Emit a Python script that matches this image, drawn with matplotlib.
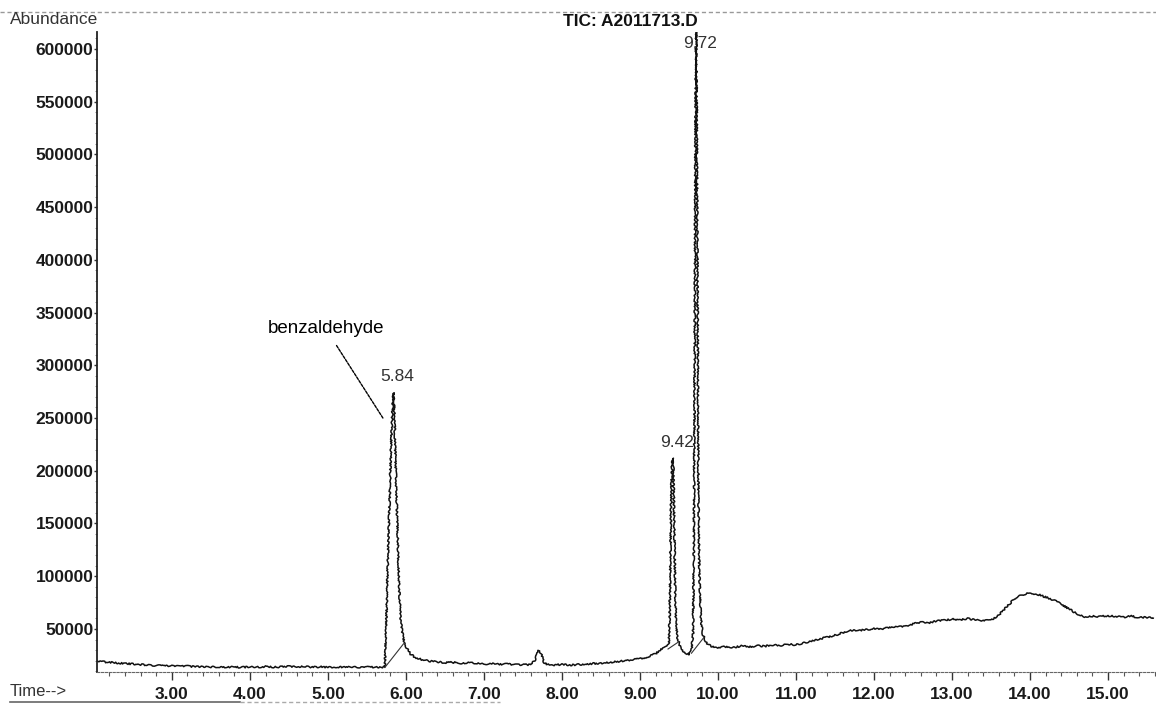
import matplotlib
matplotlib.use('Agg')
import matplotlib.pyplot as plt
from matplotlib.ticker import MultipleLocator, FixedLocator
from matplotlib.lines import Line2D

plt.rcParams['font.family'] = ['Liberation Sans', 'DejaVu Sans']

# ---------------- data ----------------
time_min = [
    2.04, 2.10, 2.20, 2.30, 2.40, 2.50, 2.60, 2.70, 2.80, 2.90,
    3.00, 3.10, 3.20, 3.30, 3.40, 3.50, 3.60, 3.70, 3.80, 3.90,
    4.00, 4.10, 4.20, 4.30, 4.40, 4.50, 4.60, 4.70, 4.80, 4.90,
    5.00, 5.10, 5.20, 5.30, 5.40, 5.50, 5.60, 5.70, 5.73, 5.75,
    5.77, 5.79, 5.81, 5.83, 5.84, 5.85, 5.87, 5.89, 5.91, 5.93,
    5.95, 5.98, 6.01, 6.06, 6.12, 6.20, 6.30, 6.40, 6.50, 6.60,
    6.70, 6.80, 6.90, 7.00, 7.10, 7.20, 7.30, 7.40, 7.50, 7.60,
    7.65, 7.70, 7.73, 7.77, 7.80, 7.90, 8.00, 8.10, 8.20, 8.30,
    8.40, 8.50, 8.60, 8.70, 8.80, 8.90, 9.00, 9.10, 9.20, 9.26,
    9.30, 9.34, 9.37, 9.38, 9.39, 9.40, 9.41, 9.42, 9.43, 9.44,
    9.45, 9.46, 9.48, 9.52, 9.58, 9.63, 9.66, 9.68, 9.69, 9.70,
    9.71, 9.72, 9.73, 9.74, 9.75, 9.76, 9.78, 9.80, 9.85, 9.90,
    10.0, 10.1, 10.2, 10.3, 10.4, 10.5, 10.6, 10.7, 10.8, 10.9,
    11.0, 11.1, 11.2, 11.3, 11.4, 11.5, 11.6, 11.7, 11.8, 11.9,
    12.0, 12.1, 12.2, 12.3, 12.4, 12.5, 12.6, 12.7, 12.8, 12.9,
    13.0, 13.1, 13.2, 13.3, 13.4, 13.5, 13.6, 13.7, 13.8, 13.9,
    14.0, 14.1, 14.2, 14.3, 14.4, 14.5, 14.6, 14.7, 14.8, 14.9,
    15.0, 15.1, 15.2, 15.3, 15.4, 15.5, 15.58,
]
abundance = [
    19600, 19000, 18400, 17900, 17200, 16800, 16200, 15900, 15300, 15100,
    14900, 14500, 14700, 14100, 14300, 13900, 14200, 13700, 13900, 13600,
    14100, 13800, 14300, 13700, 14000, 14400, 14000, 14300, 13800, 14100,
    13700, 14000, 13800, 14200, 13700, 13900, 13700, 13800, 14000, 60000,
    120000, 170000, 225000, 262000, 274000, 262000, 200000, 150000, 95000, 62000,
    48000, 37000, 32000, 26000, 23000, 21000, 19600, 18800, 18000, 18400,
    17600, 18000, 17200, 16800, 17100, 16400, 16700, 16000, 16300, 16000,
    20000, 29500, 27000, 18500, 16200, 15900, 16300, 15800, 16200, 16600,
    17200, 17600, 18300, 18900, 20000, 20800, 21800, 23500, 26500, 30000,
    31500, 33000, 36000, 60000, 120000, 180000, 205000, 212000, 200000, 150000,
    95000, 60000, 42000, 32000, 27000, 26000, 29000, 45000, 120000, 280000,
    500000, 625000, 520000, 340000, 180000, 105000, 62000, 46000, 37000, 34000,
    32500, 33200, 32600, 33800, 33000, 34200, 33600, 34800, 34200, 35400,
    35000, 36800, 38500, 40500, 42300, 44000, 46500, 49000, 48200, 49500,
    50200, 49800, 51500, 52800, 52200, 54800, 56500, 55800, 57500, 58200,
    59300, 58700, 59800, 58500, 57600, 58500, 63000, 71000, 78500, 82500,
    84000, 82800, 80200, 77500, 73500, 69000, 64500, 61500, 62200, 61800,
    62500, 62000, 61300, 62100, 60800, 61000, 60200,
]

peak_rt = [5.84, 9.42, 9.72]
peak_labels = ["5.84", "9.42", "9.72"]
peak_top = [274000, 212000, 590000]

# integration baselines drawn under labelled peaks (start/end)
base_t0 = [5.73, 9.36, 9.66]
base_y0 = [13500, 31000, 27000]
base_t1 = [5.97, 9.50, 9.82]
base_y1 = [36000, 38000, 42000]

x_ticks = [3, 4, 5, 6, 7, 8, 9, 10, 11, 12, 13, 14, 15]
y_ticks = [50000, 100000, 150000, 200000, 250000, 300000, 350000,
           400000, 450000, 500000, 550000, 600000]

# ---------------- figure ----------------
W, H = 1156, 704
fig = plt.figure(figsize=(W / 100, H / 100), dpi=100)
ax = fig.add_axes([97 / W, (H - 672) / H, 1 - 97 / W, (672 - 32) / H])

trace, = ax.plot(time_min, abundance, color='#111111', lw=1.1, clip_on=True)
trace.set_sketch_params(scale=0.8, length=2.5, randomness=10.0)
for t0, y0, t1, y1 in zip(base_t0, base_y0, base_t1, base_y1):
    ax.plot([t0, t1], [y0, y1], color='#333333', lw=0.8)

ax.set_xlim(2.04, 15.615)
ax.set_ylim(9200, 616000)

for s in ['top', 'right']:
    ax.spines[s].set_visible(False)
ax.spines['left'].set_color('#222222')
ax.spines['left'].set_linewidth(1.3)
ax.spines['bottom'].set_color('#666666')
ax.spines['bottom'].set_linewidth(0.8)
ax.spines['bottom'].set_linestyle((0, (2, 1.5)))

ax.xaxis.set_major_locator(FixedLocator(x_ticks))
ax.set_xticklabels([f"{v:.2f}" for v in x_ticks])
ax.xaxis.set_minor_locator(MultipleLocator(0.2))
ax.yaxis.set_major_locator(FixedLocator(y_ticks))
ax.set_yticklabels([str(v) for v in y_ticks])
ax.yaxis.set_minor_locator(MultipleLocator(10000))

ax.tick_params(axis='x', which='major', length=6, width=1.0, color='#333333',
               pad=5, labelsize=12.5, labelcolor='#1a1a1a')
ax.tick_params(axis='x', which='minor', length=3, width=0.8, color='#555555')
ax.tick_params(axis='y', which='major', length=2, width=1.0, color='#333333',
               pad=0.5, labelsize=12.5, labelcolor='#1a1a1a')
ax.tick_params(axis='y', which='minor', length=1.2, width=0.6, color='#777777')
for lab in ax.get_xticklabels() + ax.get_yticklabels():
    lab.set_fontweight('bold')

# peak labels
for rt, lab, top in zip(peak_rt, peak_labels, peak_top):
    ax.annotate(lab, xy=(rt, top), xytext=(3, 6), textcoords='offset points',
                ha='center', va='bottom', fontsize=12.5, color='#333333')

# benzaldehyde annotation
ax.annotate('benzaldehyde', xy=(5.705, 250000), xytext=(4.97, 335000),
            ha='center', va='center', fontsize=13.5, color='black',
            arrowprops=dict(arrowstyle='-', color='black', lw=1.0,
                            linestyle=(0, (2, 1)), shrinkA=5, shrinkB=0))

# header / axis captions
fig.text(10 / W, 1 - 19 / H, 'Abundance', ha='left', va='center',
         fontsize=12.5, color='#333333')
fig.text(630 / W, 1 - 22 / H, 'TIC: A2011713.D', ha='center', va='center',
         fontsize=12.5, fontweight='bold', color='#111111')
fig.text(10 / W, 1 - 691 / H, 'Time-->', ha='left', va='center',
         fontsize=12, color='#333333')

# scanned page border lines
fig.add_artist(Line2D([0, 1], [1 - 12 / H, 1 - 12 / H], transform=fig.transFigure,
                      color='#999999', lw=1.0, linestyle=(0, (3, 2))))
fig.add_artist(Line2D([10 / W, 240 / W], [1 - 702 / H, 1 - 702 / H],
                      transform=fig.transFigure, color='#666666', lw=1.2))
fig.add_artist(Line2D([240 / W, 500 / W], [1 - 702 / H, 1 - 702 / H],
                      transform=fig.transFigure, color='#aaaaaa', lw=1.0,
                      linestyle=(0, (3, 2))))

fig.savefig('out.png', dpi=100)
